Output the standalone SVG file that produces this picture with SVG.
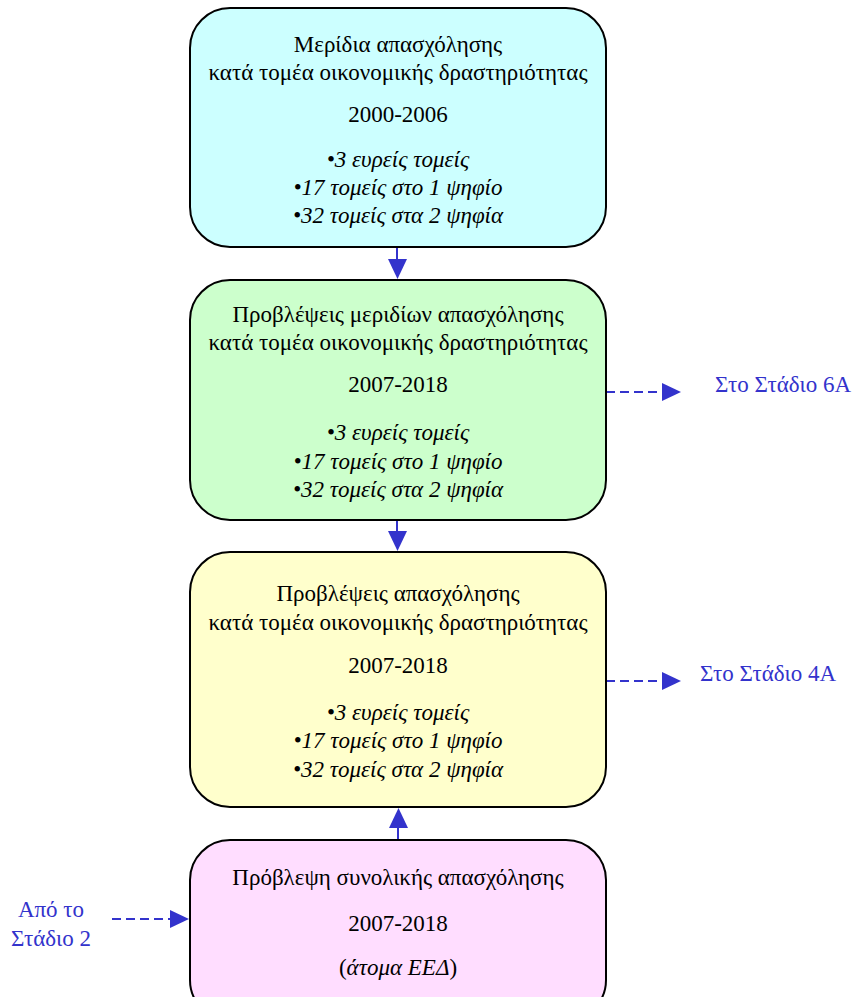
<svg xmlns="http://www.w3.org/2000/svg" width="854" height="997" viewBox="0 0 854 997">
<defs>
<style>
.box{stroke:#000;stroke-width:2}
.t{font-family:"Liberation Serif","Times New Roman",serif;font-size:23px;fill:#000;text-anchor:middle}
.i{font-style:italic}
.b{font-family:"Liberation Serif","Times New Roman",serif;font-size:23px;fill:#3333CC}
.c{stroke:#3333CC;stroke-width:2;fill:none}
.d{stroke-dasharray:9,5}
</style>
</defs>
<rect width="854" height="997" fill="#fff"/>
<g id="connectors">
<line class="c" x1="397" y1="248" x2="397" y2="260"/>
<path d="M388,259 L407,259 L397.5,279 Z" fill="#3333CC"/>
<line class="c" x1="397" y1="520" x2="397" y2="532"/>
<path d="M388,531 L407,531 L397.5,551 Z" fill="#3333CC"/>
<line class="c" x1="398" y1="840" x2="398" y2="826"/>
<path d="M389,828 L408,828 L398.5,808 Z" fill="#3333CC"/>
<line class="c d" x1="606" y1="392" x2="663" y2="392"/>
<path d="M662,383 L681,392 L662,401 Z" fill="#3333CC"/>
<line class="c d" x1="606" y1="681" x2="663" y2="681"/>
<path d="M662,672 L681,681 L662,690 Z" fill="#3333CC"/>
<line class="c d" x1="112" y1="919" x2="172" y2="919"/>
<path d="M170,910 L189,919 L170,928 Z" fill="#3333CC"/>
</g>
<g id="node1">
<rect class="box" x="190" y="8" width="416" height="239" rx="40" fill="#CCFFFF"/>
<text class="t" x="398" y="52">Μερίδια απασχόλησης</text>
<text class="t" x="398" y="80">κατά τομέα οικονομικής δραστηριότητας</text>
<text class="t" x="398" y="122">2000-2006</text>
<text class="t i" x="398" y="167">•3 ευρείς τομείς</text>
<text class="t i" x="398" y="195">•17 τομείς στο 1 ψηφίο</text>
<text class="t i" x="398" y="223">•32 τομείς στα 2 ψηφία</text>
</g>
<g id="node2">
<rect class="box" x="190" y="280" width="416" height="240" rx="40" fill="#CCFFCC"/>
<text class="t" x="398" y="322">Προβλέψεις μεριδίων απασχόλησης</text>
<text class="t" x="398" y="350">κατά τομέα οικονομικής δραστηριότητας</text>
<text class="t" x="398" y="392">2007-2018</text>
<text class="t i" x="398" y="440">•3 ευρείς τομείς</text>
<text class="t i" x="398" y="469">•17 τομείς στο 1 ψηφίο</text>
<text class="t i" x="398" y="497">•32 τομείς στα 2 ψηφία</text>
</g>
<g id="node3">
<rect class="box" x="190" y="552" width="416" height="255" rx="40" fill="#FFFFCC"/>
<text class="t" x="398" y="601">Προβλέψεις απασχόλησης</text>
<text class="t" x="398" y="630">κατά τομέα οικονομικής δραστηριότητας</text>
<text class="t" x="398" y="673">2007-2018</text>
<text class="t i" x="398" y="720">•3 ευρείς τομείς</text>
<text class="t i" x="398" y="748">•17 τομείς στο 1 ψηφίο</text>
<text class="t i" x="398" y="777">•32 τομείς στα 2 ψηφία</text>
</g>
<g id="node4">
<rect class="box" x="190" y="840" width="416" height="180" rx="40" fill="#FFDDFF"/>
<text class="t" x="398" y="885">Πρόβλεψη συνολικής απασχόλησης</text>
<text class="t" x="398" y="931">2007-2018</text>
<text class="t" x="398" y="975">(<tspan font-style="italic">άτομα ΕΕΔ</tspan>)</text>
</g>
<g id="label6A"><text class="b" x="715" y="392">Στο Στάδιο 6Α</text></g>
<g id="label4A"><text class="b" x="700" y="681">Στο Στάδιο 4Α</text></g>
<g id="labelFrom">
<text class="b" x="51" y="917" text-anchor="middle">Από το</text>
<text class="b" x="51" y="946" text-anchor="middle">Στάδιο 2</text>
</g>
</svg>
